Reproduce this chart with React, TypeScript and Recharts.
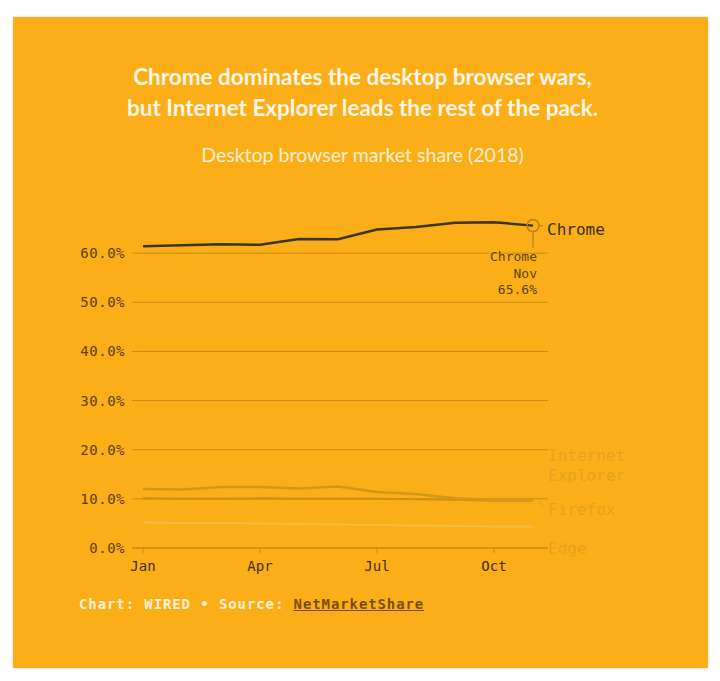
import React from 'react';
import { LineChart, Line, XAxis, YAxis, ReferenceLine } from 'recharts';

const months = ['Jan', 'Feb', 'Mar', 'Apr', 'May', 'Jun', 'Jul', 'Aug', 'Sep', 'Oct', 'Nov'];
const chrome = [61.4, 61.6, 61.8, 61.7, 62.9, 62.85, 64.8, 65.3, 66.2, 66.3, 65.6];
const ie = [12.0, 11.9, 12.4, 12.4, 12.1, 12.5, 11.4, 11.0, 10.1, 9.7, 9.7];
const firefox = [10.1, 10.0, 10.0, 10.1, 10.0, 10.0, 10.0, 9.9, 9.8, 9.6, 9.6];
const edge = [5.2, 5.1, 5.1, 5.0, 4.9, 4.8, 4.7, 4.6, 4.5, 4.4, 4.4];
const yTicks = [0, 10, 20, 30, 40, 50, 60];

const data = months.map((m, i) => ({
  month: m,
  chrome: chrome[i],
  ie: ie[i],
  firefox: firefox[i],
  edge: edge[i],
}));

const BG = '#FBAE18';
const GRID = '#C98A12';
const MONO = '"DejaVu Sans Mono", "Liberation Mono", monospace';
const FADED = '#E6A21F';
const LAST = months.length - 1;

const emptyDot = (p: any) => <g key={`e-${p.dataKey}-${p.index}`} />;

const chromeDot = (p: any) => {
  if (p.index !== LAST) return emptyDot(p);
  const { cx, cy } = p;
  return (
    <g key="chrome-end">
      <circle cx={cx} cy={cy} r={6} fill="none" stroke="#B9821A" strokeWidth={1.5} />
      <line x1={cx} y1={cy + 6} x2={cx} y2={cy + 22} stroke="#B9821A" strokeWidth={1.2} />
      <line x1={cx + 6} y1={cy} x2={cx + 10} y2={cy} stroke="#B9821A" strokeWidth={1.2} />
      <text x={cx + 14} y={cy + 5} fontFamily={MONO} fontSize={16} fill="#3A3020" dominantBaseline="middle">Chrome</text>
      <g fontFamily={MONO} fontSize={13} fill="#5C410E" textAnchor="end">
        <text x={cx + 4} y={cy + 32} dominantBaseline="middle">Chrome</text>
        <text x={cx + 4} y={cy + 48.5} dominantBaseline="middle">Nov</text>
        <text x={cx + 4} y={cy + 65} dominantBaseline="middle">65.6%</text>
      </g>
    </g>
  );
};

const endLabel = (lines: string[], dy: number, leader?: boolean) => (p: any) => {
  if (p.index !== LAST) return emptyDot(p);
  const { cx, cy } = p;
  return (
    <g key={`end-${lines[0]}`}>
      {leader && <line x1={cx + 4} y1={cy + 1} x2={cx + 11} y2={cy + 5} stroke={FADED} strokeWidth={1} />}
      {lines.map((t, i) => (
        <text key={t} x={cx + 15} y={cy + dy + i * 20.5} fontFamily={MONO} fontSize={16} fill={FADED} dominantBaseline="middle">
          {t}
        </text>
      ))}
    </g>
  );
};

export default function App() {
  return (
    <div style={{ position: 'absolute', left: 0, top: 0, width: 720, height: 681, background: '#fff', overflow: 'hidden' }}>
      <div
        style={{
          position: 'absolute',
          left: 13,
          top: 17,
          width: 695,
          height: 651,
          background: BG,
          boxShadow: '0 0 3px rgba(0,0,0,0.18)',
        }}
      />
      <div
        style={{
          position: 'absolute',
          left: 13,
          top: 61,
          width: 699,
          textAlign: 'center',
          fontFamily: 'Lato, "Open Sans", sans-serif',
          fontWeight: 700,
          fontSize: 22.5,
          lineHeight: '31px',
          color: '#FFF6E4',
        }}
      >
        Chrome dominates the desktop browser wars,
        <br />
        but Internet Explorer leads the rest of the pack.
      </div>
      <div
        style={{
          position: 'absolute',
          left: 13,
          top: 141,
          width: 699,
          textAlign: 'center',
          fontFamily: 'Lato, "Open Sans", sans-serif',
          fontWeight: 400,
          fontSize: 19.5,
          lineHeight: '27px',
          color: '#FFF0D0',
        }}
      >
        Desktop browser market share (2018)
      </div>
      <div style={{ position: 'absolute', left: 0, top: 0 }}>
        <LineChart
          width={720}
          height={681}
          data={data}
          margin={{ top: 204, right: 172, bottom: 103, left: 72 }}
        >
          {yTicks.map((t) => (
            <ReferenceLine key={`g-${t}`} y={t} stroke={GRID} strokeWidth={1} ifOverflow="extendDomain" />
          ))}
          <XAxis
            dataKey="month"
            interval={2}
            height={30}
            padding={{ left: 11, right: 15 }}
            axisLine={{ stroke: GRID, strokeWidth: 1 }}
            tickLine={{ stroke: GRID }}
            tickSize={5}
            tickMargin={8}
            tick={{ fontFamily: MONO, fontSize: 14, fill: '#3E2D0F' }}
          />
          <YAxis
            width={60}
            domain={[0, 70]}
            ticks={yTicks}
            interval={0}
            axisLine={false}
            tickLine={false}
            tickSize={0}
            tickMargin={7}
            tickFormatter={(v: number) => `${v.toFixed(1)}%`}
            tick={{ fontFamily: MONO, fontSize: 14, fill: '#5C410E', letterSpacing: 0.5 }}
          />
          <Line
            dataKey="edge"
            type="linear"
            stroke="#F5BB42"
            strokeWidth={2}
            dot={endLabel(['Edge'], 23)}
            activeDot={false}
            isAnimationActive={false}
          />
          <Line
            dataKey="firefox"
            type="linear"
            stroke="#CF9015"
            strokeWidth={2}
            dot={endLabel(['Firefox'], 10, true)}
            activeDot={false}
            isAnimationActive={false}
          />
          <Line
            dataKey="ie"
            type="linear"
            stroke="#D6961A"
            strokeWidth={2.5}
            dot={endLabel(['Internet', 'Explorer'], -44)}
            activeDot={false}
            isAnimationActive={false}
          />
          <Line
            dataKey="chrome"
            type="linear"
            stroke="#3B3524"
            strokeWidth={2.5}
            dot={chromeDot}
            activeDot={false}
            isAnimationActive={false}
          />
        </LineChart>
      </div>
      <div
        style={{
          position: 'absolute',
          left: 79,
          top: 595,
          fontFamily: MONO,
          fontWeight: 700,
          fontSize: 14,
          letterSpacing: 0.9,
          color: '#FFF1D2',
          whiteSpace: 'nowrap',
          lineHeight: '18px',
        }}
      >
        Chart: WIRED • Source:{' '}
        <span style={{ color: '#7A4E0A', textDecoration: 'underline' }}>NetMarketShare</span>
      </div>
    </div>
  );
}
